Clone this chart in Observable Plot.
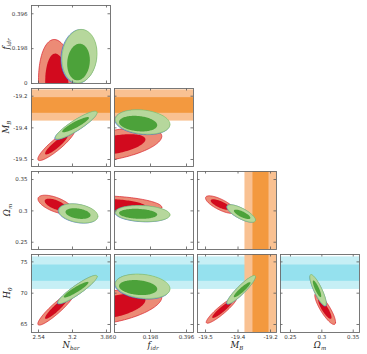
<!DOCTYPE html>
<html><head><meta charset="utf-8">
<script src="https://cdn.jsdelivr.net/npm/d3@7"></script>
<script src="https://cdn.jsdelivr.net/npm/@observablehq/plot@0.6"></script>
<style>
body{margin:0;background:#fff;}
#chart{position:relative;width:367px;height:354px;overflow:hidden;font-family:"DejaVu Sans",sans-serif;}
.p{position:absolute;}
.lab{position:absolute;font-family:"DejaVu Serif",serif;font-style:italic;font-size:8.5px;white-space:nowrap;line-height:1;color:#222;}
.lab sub{font-size:5.5px;vertical-align:-2px;}
</style></head><body><div id="chart"></div>
<script>
// ---- axis ticks and labels ----
const nbarTicks = [2.54, 3.2, 3.86], nbarLabels = ["2.54", "3.2", "3.86"];
const fidrTicks = [0, 0.198, 0.396], fidrLabels = ["0", "0.198", "0.396"];
const mbTicks = [-19.5, -19.35, -19.2], mbLabels = ["-19.5", "-19.4", "-19.2"];
const omTicks = [0.25, 0.3, 0.35], omLabels = ["0.25", "0.3", "0.35"];
const h0Ticks = [65, 70, 75], h0Labels = ["65", "70", "75"];

// ---- axis ranges ----
const xRanges = {Nbar: [2.404, 3.938], fidr: [0, 0.4345], MB: [-19.537, -19.1724], Om: [0.2341, 0.36]};
const yRanges = {fidr: [0, 0.443], MB: [-19.5332, -19.1635], Om: [0.2384, 0.3628], H0: [63.72, 76.18]};

// ---- external priors: [mean, sigma] ----
const mbPrior = [-19.244, 0.037];
const h0Prior = [73.2, 1.3];

// ---- contours: [xParam, yParam, level (1 = 68%, 2 = 95%), cx, cy, halfX, halfY, rho] ----
const redContours = [
  ["Nbar","fidr",2, 2.9,-0.02, 0.36,0.27, -0.15], ["Nbar","fidr",1, 2.9,-0.02, 0.23,0.19, -0.15],
  ["Nbar","MB",2, 2.887,-19.43, 0.36,0.075, 0.9], ["Nbar","MB",1, 2.887,-19.43, 0.22,0.046, 0.9],
  ["Nbar","Om",2, 2.87,0.31, 0.34,0.015, -0.6], ["Nbar","Om",1, 2.87,0.31, 0.21,0.0095, -0.6],
  ["Nbar","H0",2, 2.887,67.6, 0.36,2.7, 0.92], ["Nbar","H0",1, 2.887,67.6, 0.22,1.7, 0.92],
  ["fidr","MB",2, 0.0,-19.43, 0.26,0.08, 0.5], ["fidr","MB",1, 0.0,-19.43, 0.17,0.05, 0.5],
  ["fidr","Om",2, 0.0,0.31, 0.26,0.014, -0.3], ["fidr","Om",1, 0.0,0.31, 0.17,0.009, -0.3],
  ["fidr","H0",2, 0.0,67.9, 0.26,2.9, 0.5], ["fidr","H0",1, 0.0,67.9, 0.17,2.0, 0.5],
  ["MB","Om",2, -19.431,0.31, 0.069,0.014, -0.75], ["MB","Om",1, -19.43,0.31, 0.046,0.0085, -0.75],
  ["MB","H0",2, -19.426,67.3, 0.0706,2.1, 0.92], ["MB","H0",1, -19.423,67.4, 0.046,1.35, 0.92],
  ["Om","H0",2, 0.3053,67.5, 0.0165,2.5, -0.85], ["Om","H0",1, 0.3048,67.5, 0.0106,1.6, -0.85]
];
const blueContours = [
  ["Nbar","fidr",2, 3.322,0.153, 0.345,0.153, 0.1], ["Nbar","fidr",1, 3.305,0.12, 0.222,0.105, 0.1],
  ["Nbar","MB",2, 3.262,-19.34, 0.405,0.066, 0.9], ["Nbar","MB",1, 3.25,-19.337, 0.26,0.036, 0.9],
  ["Nbar","Om",2, 3.303,0.2958, 0.38,0.0153, -0.3], ["Nbar","Om",1, 3.297,0.2957, 0.243,0.0086, -0.3],
  ["Nbar","H0",2, 3.288,70.52, 0.38,2.26, 0.92], ["Nbar","H0",1, 3.26,70.5, 0.24,1.25, 0.92],
  ["fidr","MB",2, 0.152,-19.324, 0.15,0.058, -0.2], ["fidr","MB",1, 0.128,-19.332, 0.105,0.037, -0.2],
  ["fidr","Om",2, 0.152,0.2955, 0.15,0.0129, -0.15], ["fidr","Om",1, 0.128,0.2951, 0.105,0.008, -0.15],
  ["fidr","H0",2, 0.152,71.02, 0.15,1.96, -0.2], ["fidr","H0",1, 0.128,70.85, 0.105,1.2, -0.2],
  ["MB","Om",2, -19.337,0.2959, 0.0655,0.0139, -0.75], ["MB","Om",1, -19.333,0.2947, 0.038,0.0075, -0.75],
  ["MB","H0",2, -19.337,70.48, 0.0655,2.26, 0.92], ["MB","H0",1, -19.333,70.5, 0.0385,1.2, 0.92],
  ["Om","H0",2, 0.2941,70.4, 0.013,2.48, -0.85], ["Om","H0",1, 0.2925,70.62, 0.0067,1.33, -0.85]
];
const greenContours = [
  ["Nbar","fidr",2, 3.336,0.155, 0.34,0.152, 0.1], ["Nbar","fidr",1, 3.317,0.122, 0.22,0.104, 0.1],
  ["Nbar","MB",2, 3.274,-19.337, 0.405,0.066, 0.9], ["Nbar","MB",1, 3.26,-19.335, 0.26,0.036, 0.9],
  ["Nbar","Om",2, 3.313,0.296, 0.38,0.0152, -0.3], ["Nbar","Om",1, 3.307,0.2957, 0.243,0.0085, -0.3],
  ["Nbar","H0",2, 3.30,70.6, 0.38,2.25, 0.92], ["Nbar","H0",1, 3.27,70.56, 0.24,1.25, 0.92],
  ["fidr","MB",2, 0.155,-19.322, 0.15,0.058, -0.2], ["fidr","MB",1, 0.13,-19.33, 0.105,0.037, -0.2],
  ["fidr","Om",2, 0.155,0.2957, 0.15,0.0128, -0.15], ["fidr","Om",1, 0.13,0.2953, 0.105,0.008, -0.15],
  ["fidr","H0",2, 0.155,71.1, 0.15,1.95, -0.2], ["fidr","H0",1, 0.13,70.9, 0.105,1.2, -0.2],
  ["MB","Om",2, -19.335,0.2958, 0.0655,0.0139, -0.75], ["MB","Om",1, -19.331,0.2945, 0.038,0.0075, -0.75],
  ["MB","H0",2, -19.335,70.56, 0.0655,2.26, 0.92], ["MB","H0",1, -19.331,70.56, 0.0385,1.2, 0.92],
  ["Om","H0",2, 0.2939,70.5, 0.013,2.48, -0.85], ["Om","H0",1, 0.2923,70.7, 0.0067,1.33, -0.85]
];

const cols = ["Nbar", "fidr", "MB", "Om"];
const rows = ["fidr", "MB", "Om", "H0"];
const tickSets = {
  Nbar: [nbarTicks, nbarLabels], fidr: [fidrTicks, fidrLabels], MB: [mbTicks, mbLabels],
  Om: [omTicks, omLabels], H0: [h0Ticks, h0Labels]
};

const styles = [
  {c: redContours, outer: "#ec8b76", inner: "#d20a1e", stroke: "#d8202a"},
  {c: blueContours, outer: "#9fb6ea", inner: "#3d66d2", stroke: "#3b62cf"},
  {c: greenContours, outer: "#b6d79c", inner: "#4ca23a", stroke: "#86c466"}
];
const orange = {light: "#f9c192", dark: "#f3993f"};
const cyan = {light: "#c6eff5", dark: "#95e1ee"};

function ellipse(c, n = 120) {
  const [, , , cx, cy, hx, hy, r] = c;
  const s = Math.sqrt(1 - r * r);
  return d3.range(n).map(i => {
    const t = 2 * Math.PI * i / n;
    return {x: cx + hx * Math.cos(t), y: cy + hy * (r * Math.cos(t) + s * Math.sin(t))};
  });
}

const colLeft = [31, 114, 197, 280], rowTop = [5, 88, 171, 254];
const W = 79, H = 78;
const chart = document.getElementById("chart");

for (let ri = 0; ri < 4; ri++) {
  for (let ci = 0; ci <= ri; ci++) {
    const xp = cols[ci], yp = rows[ri];
    const xd = xRanges[xp], yd = yRanges[yp];
    const mL = ci === 0 ? 30 : 0, mB = ri === 3 ? 22 : 0;
    const marks = [];
    const hBand = (p, col) => {
      marks.push(Plot.rect([{x1: xd[0], x2: xd[1], y1: p[0] - 2 * p[1], y2: p[0] + 2 * p[1]}], {x1: "x1", x2: "x2", y1: "y1", y2: "y2", fill: col.light, clip: true}));
      marks.push(Plot.rect([{x1: xd[0], x2: xd[1], y1: p[0] - p[1], y2: p[0] + p[1]}], {x1: "x1", x2: "x2", y1: "y1", y2: "y2", fill: col.dark, clip: true}));
    };
    const vBand = (p, col) => {
      marks.push(Plot.rect([{y1: yd[0], y2: yd[1], x1: p[0] - 2 * p[1], x2: p[0] + 2 * p[1]}], {x1: "x1", x2: "x2", y1: "y1", y2: "y2", fill: col.light, clip: true}));
      marks.push(Plot.rect([{y1: yd[0], y2: yd[1], x1: p[0] - p[1], x2: p[0] + p[1]}], {x1: "x1", x2: "x2", y1: "y1", y2: "y2", fill: col.dark, clip: true}));
    };
    if (yp === "H0") hBand(h0Prior, cyan);
    if (yp === "MB") hBand(mbPrior, orange);
    if (xp === "MB") vBand(mbPrior, orange);
    for (const st of styles) {
      const cs = st.c.filter(c => c[0] === xp && c[1] === yp).sort((a, b) => b[2] - a[2]);
      for (const c of cs) {
        marks.push(Plot.line(ellipse(c), {x: "x", y: "y", curve: "linear-closed", clip: true,
          fill: c[2] === 2 ? st.outer : st.inner, stroke: c[2] === 2 ? st.stroke : "none", strokeWidth: 0.7}));
      }
    }
    const [xt, xl] = tickSets[xp], [yt, yl] = tickSets[yp];
    marks.push(Plot.tickX(xt, {x: d => d, insetTop: H - 2.5, stroke: "#555", strokeWidth: 0.8}));
    marks.push(Plot.tickX(xt, {x: d => d, insetBottom: H - 2.5, stroke: "#555", strokeWidth: 0.8}));
    marks.push(Plot.tickY(yt, {y: d => d, insetRight: W - 2.5, stroke: "#555", strokeWidth: 0.8}));
    marks.push(Plot.tickY(yt, {y: d => d, insetLeft: W - 2.5, stroke: "#555", strokeWidth: 0.8}));
    marks.push(Plot.frame({stroke: "#6a6a6a", strokeWidth: 0.9}));
    if (ci === 0) marks.push(Plot.axisY({ticks: yt, tickFormat: d => yl[yt.indexOf(d)], tickSize: 0, tickPadding: 4, label: null, fill: "#333"}));
    if (ri === 3) marks.push(Plot.axisX({ticks: xt, tickFormat: d => xl[xt.indexOf(d)], tickSize: 0, tickPadding: 3, label: null, fill: "#333"}));
    const svg = Plot.plot({
      width: W + mL, height: H + mB,
      marginLeft: mL, marginBottom: mB, marginTop: 0, marginRight: 0,
      x: {domain: xd, axis: null}, y: {domain: yd, axis: null},
      style: {fontSize: "5.5px", fontFamily: "DejaVu Sans, sans-serif", background: "transparent", overflow: "visible"},
      marks
    });
    const div = document.createElement("div");
    div.className = "p";
    div.style.left = (colLeft[ci] - mL) + "px";
    div.style.top = rowTop[ri] + "px";
    div.appendChild(svg);
    chart.appendChild(div);
  }
}

// ---- axis titles ----
const yTitles = [
  {html: "f<sub>idr</sub>", x: 7, y: 44},
  {html: "M<sub>B</sub>", x: 7, y: 127},
  {html: "Ω<sub>m</sub>", x: 8, y: 210},
  {html: "H<sub>0</sub>", x: 8, y: 293}
];
const xTitles = [
  {html: "N<sub>bar</sub>", x: 71, y: 346},
  {html: "f<sub>idr</sub>", x: 153, y: 346},
  {html: "M<sub>B</sub>", x: 237, y: 346},
  {html: "Ω<sub>m</sub>", x: 320, y: 346}
];
for (const t of yTitles) {
  const d = document.createElement("div");
  d.className = "lab"; d.innerHTML = t.html;
  d.style.left = t.x + "px"; d.style.top = t.y + "px";
  d.style.transform = "translate(-50%,-50%) rotate(-90deg)";
  chart.appendChild(d);
}
for (const t of xTitles) {
  const d = document.createElement("div");
  d.className = "lab"; d.innerHTML = t.html;
  d.style.left = t.x + "px"; d.style.top = t.y + "px";
  d.style.transform = "translate(-50%,-50%)";
  chart.appendChild(d);
}
</script></body></html>
